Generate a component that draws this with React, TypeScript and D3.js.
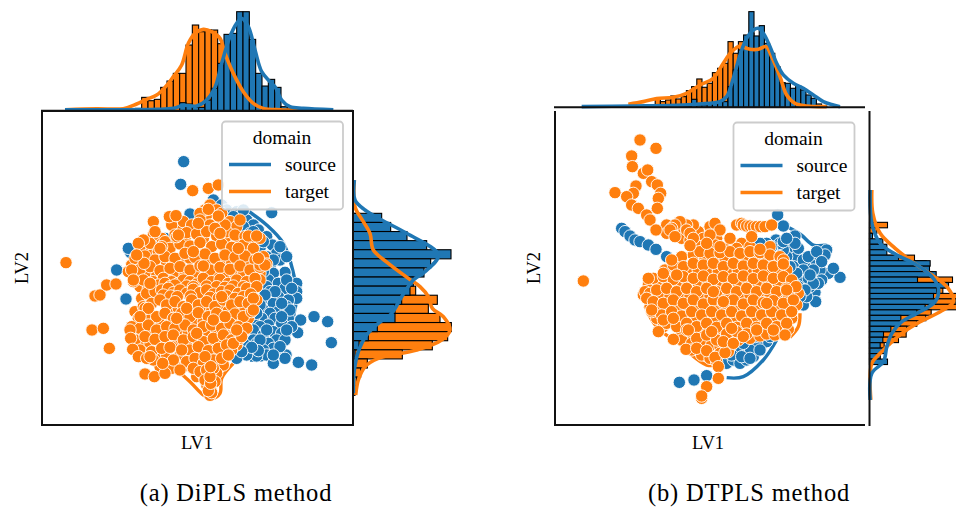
import React from "react";
import * as d3 from "d3";

const BLUE = "#1f77b4";
const ORANGE = "#ff7f0e";
type P = [number, number];

// ---------- DiPLS ----------
const diplsSourcePoints: P[] = [
[431,155],[422,223],[450,312],[695,308],[230,480],[258,567],[268,420],[272,428],[265,415],[360,390],[350,400],[375,385],
[520,270],[545,285],[560,300],[590,305],[620,330],[640,345],[610,350],[655,360],[680,380],[630,370],[697,405],[660,415],[710,430],[680,440],[720,450],[740,440],[690,470],[735,487],[700,490],[660,500],[685,510],[715,520],[770,520],[680,530],[735,535],[770,545],[690,545],[715,560],[770,565],[745,570],[665,570],[700,580],[740,590],[670,600],[715,605],[690,610],[745,625],[705,625],[665,625],[640,630],[725,640],[685,645],[660,650],[640,660],[700,665],[725,670],[670,675],[640,690],[710,690],[685,700],[650,700],[615,705],[735,690],[700,715],[670,720],[648,715],[625,725],[680,735],[650,738],[620,735],[590,745],[738,735],[735,745],[700,760],[775,757],[815,765],[782,630],[822,620],[863,635],[874,698],[773,668],[610,300],[580,320],
[640,365],[670,395],[720,410],[700,450],[670,485],[740,510],[755,535],[750,600],[725,620],[755,650],[740,660],[680,660],[660,690],[720,710],[700,735],[655,722],[635,712],[605,725],[725,580],[705,545],[675,555],[660,585],[650,610],
];
const diplsTargetFill: P[] = [
[500,315],[465,355],[425,355],[520,360],[570,355],[365,385],[320,420],[400,395],[435,385],[490,385],[555,385],[600,395],[635,400],
[300,455],[340,430],[380,458],[420,455],[450,445],[480,450],[510,455],[545,458],[575,455],[600,445],[630,460],[655,458],[275,465],
[285,500],[320,490],[350,498],[380,490],[405,495],[435,495],[465,495],[500,492],[530,490],[555,492],[585,490],[610,490],[635,495],[660,490],
[300,530],[325,535],[345,530],[362,552],[380,568],[405,535],[430,528],[448,535],[470,562],[490,528],[510,535],[530,525],[548,530],[575,550],[605,540],[635,520],[660,510],
[305,565],[330,560],[395,590],[415,595],[445,605],[465,598],[490,600],[515,602],[540,598],[565,603],[590,595],[615,598],[635,590],[650,570],
[285,605],[310,640],[335,630],[365,635],[390,640],[415,640],[440,635],[465,635],[490,635],[535,640],[560,640],[585,632],[610,640],[625,625],
[285,670],[305,665],[335,665],[365,670],[390,665],[420,668],[445,665],[475,665],[505,665],[530,665],[560,665],[585,668],[610,665],
[300,700],[330,700],[360,700],[385,695],[415,705],[445,700],[475,695],[505,705],[535,695],[565,690],[590,705],
[315,730],[350,735],[380,735],[420,735],[460,730],[490,730],[520,735],[550,728],[575,720],
[360,770],[395,775],[430,770],[450,760],[475,765],[505,765],[535,770],[550,765],
[470,800],[490,795],[515,795],[530,790],[500,825],[525,815],[510,856],
];
const diplsTargetPoints: P[] = [
[495,300],[510,285],[480,310],[530,300],[545,310],[395,345],[430,335],[455,345],[480,330],[510,345],[545,340],[570,335],[590,350],
[340,375],[375,395],[405,375],[440,368],[470,372],[500,365],[530,378],[560,365],[585,375],[615,380],
[300,410],[330,400],[355,425],[390,415],[420,402],[450,408],[480,398],[515,410],[545,402],[575,412],[610,405],[640,415],
[285,445],[315,438],[345,450],[375,440],[405,445],[435,430],[465,442],[495,432],[525,445],[555,435],[585,442],[615,438],[645,450],[670,440],
[265,485],[300,478],[330,470],[360,482],[390,475],[420,470],[450,480],[480,468],[510,480],[540,472],[570,478],[600,468],[630,480],[660,472],[680,462],
[280,515],[310,510],[340,515],[370,505],[395,515],[415,520],[430,510],[450,515],[470,522],[490,505],[515,515],[540,508],[565,520],[590,510],[620,515],[645,505],
[355,525],[375,520],[390,530],[405,525],[440,528],[460,530],[500,528],[530,530],[555,532],[580,528],[610,530],
[320,550],[345,545],[365,540],[385,535],[400,548],[420,540],[440,550],[460,538],[480,548],[500,540],[520,552],[545,545],[570,540],[595,550],[620,535],[650,530],
[370,555],[392,558],[412,560],[452,558],[510,562],[535,565],[560,558],[585,565],[610,560],[632,552],
[310,590],[335,580],[360,570],[380,585],[405,575],[430,590],[455,570],[475,585],[500,575],[525,590],[550,570],[575,585],[600,575],[625,580],[640,565],
[295,625],[320,612],[350,620],[375,610],[400,625],[425,610],[450,620],[475,608],[505,620],[530,610],[560,622],[585,612],[610,620],[635,605],
[275,650],[300,655],[325,645],[350,660],[380,650],[405,655],[435,645],[460,660],[490,650],[515,645],[545,655],[570,640],[595,650],
[285,690],[315,680],[345,688],[375,680],[400,675],[430,690],[460,680],[490,695],[520,685],[550,675],[575,690],[600,685],
[300,720],[335,725],[365,715],[395,710],[450,720],[475,710],[505,722],[535,715],[560,705],[580,700],
[340,750],[400,750],[440,755],[465,745],[490,760],[520,750],[545,745],[565,735],
[460,775],[480,785],[500,780],[520,775],[495,810],[510,830],[515,848],[505,842],
[78,458],[156,660],[190,655],[208,715],[165,558],[180,555],[200,525],[228,522],[458,242],[505,235],[535,225],[340,335],[388,320],[408,317],[345,365],[310,390],[295,400],[312,460],[275,480],[290,435],[280,510],[330,520],[315,595],[325,595],[300,620],[270,660],[272,685],[278,718],[295,740],[320,745],[330,740],[315,792],[343,800],[375,790],[368,760],[420,780],[390,712],[425,720],[495,740],[512,820],[510,800],[512,770],[620,655],[605,680],[590,660],[640,600],[660,465],[675,465],[655,445],[625,378],[660,385],[650,378],[595,415],[600,330],[555,345],[525,355],[540,370],[505,298],[535,318],[475,340],[410,380],[415,375],[365,410],[360,415],[490,468],[460,425],[440,595],[545,560],[555,620],[410,625],[520,630],[470,670],
];
const diplsSourceContour: P[] = [[620,300],[680,345],[730,400],[758,480],[770,560],[755,640],[735,700],[680,745],[630,750]];
const diplsTargetContour: P[] = [[400,770],[450,815],[490,855],[515,866],[540,850],[545,805],[580,760]];

const diplsTopBinStart = -20;
const diplsTopSource = [0,0,0,0,0,0,0,0,0,0,0,24,20,10,10,32,67,142,229,232,297,297,214,112,74,94,70,12,8,3];
const diplsTopTarget = [1,1,1,1,7,40,30,34,70,89,112,112,197,257,237,242,242,201,150,105,66,42,24,12,6,3,0,0,0,0];
const diplsTopSourceKde: P[] = [[75,3],[200,3],[350,4],[400,7],[430,16],[470,14],[500,32],[525,70],[545,142],[570,222],[590,262],[605,277],[625,252],[645,182],[665,117],[690,87],[705,72],[725,32],[750,12],[790,7],[880,3]];
const diplsTopTargetKde: P[] = [[75,3],[170,6],[250,6],[290,20],[320,34],[350,47],[375,70],[400,102],[425,137],[445,202],[465,232],[490,244],[515,237],[540,217],[555,172],[580,112],[610,57],[640,22],[670,7],[720,3],[780,2]];

const diplsRightSource = [86,113,162,221,294,233,213,181,171,146,126,126,73,46,18,6];
const diplsRightTarget = [20,30,40,50,60,80,110,150,188,253,226,261,295,284,238,148,43,23,11,6];
const diplsRightSourceKde: P[] = [[4,210],[6,270],[36,300],[86,330],[161,370],[256,435],[216,485],[181,510],[146,560],[116,610],[76,640],[41,675],[16,725],[4,780],[1,850]];
const diplsRightTargetKde: P[] = [[4,210],[6,290],[31,335],[51,370],[61,420],[106,460],[166,505],[201,530],[226,560],[238,595],[271,620],[291,660],[266,690],[191,720],[76,745],[36,770],[16,810],[8,855]];

// ---------- DTPLS ----------
const dtplsSourcePoints: P[] = [
[215,355],[225,365],[240,378],[255,390],[270,395],[295,405],[318,418],[350,440],[395,460],[683,315],[700,348],[735,378],[678,390],[388,817],[432,810],[470,797],
[530,760],[550,750],[570,760],[590,750],[610,740],[640,700],[650,695],[620,700],[600,720],[565,725],[580,700],[615,680],[660,680],[545,735],[575,740],[600,745],[630,720],
[830,420],[825,435],[800,445],[780,460],[770,475],[835,490],[870,502],[850,475],[795,547],[797,575],[760,585],[770,560],[740,440],[720,410],[710,440],[730,470],[760,510],[790,500],[810,480],[650,400],[700,420],[660,430],[690,460],[720,500],[745,415],[690,400],[630,400],[760,450],[745,530],[780,530],[815,510],[775,440],
[800,425],[815,455],[790,480],[760,480],[740,490],[775,505],[805,520],[720,470],[700,395],[665,410],[790,520],[765,540],[750,560],[735,400],[710,385],[780,495],
];
const dtplsTargetFill: P[] = [
[480,350],[500,385],[350,345],[385,350],[400,345],[350,370],[380,365],[395,385],[445,365],[430,345],[410,345],[460,385],[420,390],[450,410],[495,405],[540,410],[575,400],[560,415],[600,410],[660,410],
[395,440],[430,435],[465,445],[495,440],[525,445],[555,440],[585,445],[615,440],[645,445],[675,450],[710,480],
[345,480],[385,485],[415,480],[445,482],[475,478],[505,485],[535,480],[565,482],[595,480],[625,482],[655,485],[685,482],[712,520],
[295,525],[325,520],[355,522],[385,525],[415,520],[445,522],[475,520],[505,525],[535,520],[565,522],[595,518],[625,525],[655,520],[685,525],[725,555],[745,550],
[280,555],[330,560],[360,558],[390,562],[420,558],[450,560],[480,558],[510,562],[540,555],[570,560],[600,555],[630,562],[660,558],[690,562],[715,555],
[300,590],[325,598],[355,592],[385,600],[415,590],[445,598],[475,592],[505,598],[535,590],[565,598],[595,590],[625,598],[655,590],[685,598],[715,590],[740,585],
[320,625],[350,625],[380,632],[410,625],[440,632],[470,622],[500,630],[530,625],[560,632],[590,622],[620,632],[650,622],[680,630],[710,620],[725,625],
[340,650],[395,665],[425,670],[455,665],[485,668],[515,660],[545,675],[575,660],[605,665],[635,668],[655,660],[690,665],[715,658],
[395,690],[425,700],[455,700],[485,705],[510,710],[540,712],[565,690],[600,685],[630,678],[650,672],[675,675],
[425,720],[455,735],[480,745],[510,730],[535,725],[500,755],
];
const dtplsTargetPoints: P[] = [
[450,425],[480,430],[510,428],[540,425],[570,430],[600,425],[630,428],[660,435],[690,440],[700,450],
[370,465],[400,470],[430,460],[460,465],[490,460],[520,470],[550,460],[580,468],[610,460],[640,465],[670,470],[700,462],
[310,505],[340,500],[370,508],[400,500],[430,505],[460,498],[490,508],[520,500],[550,506],[580,498],[610,506],[640,498],[670,505],[700,500],[725,510],
[285,545],[300,550],[320,540],[350,535],[380,545],[410,535],[440,545],[470,535],[500,545],[530,535],[560,545],[590,535],[620,545],[650,535],[680,545],[710,535],[738,530],
[290,565],[310,575],[340,580],[370,570],[400,580],[430,570],[460,582],[490,570],[520,580],[550,570],[580,582],[610,570],[640,578],[670,572],[700,580],[730,570],
[305,605],[335,615],[365,605],[395,618],[425,605],[455,615],[485,605],[515,615],[545,605],[575,618],[605,605],[635,615],[665,605],[695,615],[725,605],
[350,640],[380,650],[410,640],[440,650],[470,640],[500,652],[530,640],[560,652],[590,640],[620,652],[650,640],[680,650],[710,640],
[325,665],[370,688],[410,660],[440,685],[470,675],[500,690],[530,672],[560,665],[590,672],[620,660],[670,660],[705,675],
[408,718],[440,715],[470,722],[495,742],[525,728],[520,695],[550,700],[580,680],
[100,513],[270,90],[318,115],[245,138],[247,170],[280,190],[293,180],[305,215],[322,225],[332,250],[325,265],[322,295],[258,228],[250,250],[195,248],[230,260],[245,285],[265,295],[290,315],[300,330],[318,360],
[560,345],[575,340],[580,345],[590,348],[600,348],[610,350],[620,350],[632,350],[645,350],[665,345],[495,340],[510,360],[480,375],[540,385],[605,380],[630,418],
[390,335],[375,345],[365,355],[360,360],[410,360],[420,370],[375,380],[430,385],[365,450],[420,407],[470,400],[510,410],[295,505],[340,490],[380,495],[490,545],[520,575],[710,540],[650,580],[545,655],[485,665],[415,660],[340,630],[370,625],[305,600],
[505,770],[505,805],[470,830],[455,865],[455,858],
];
const dtplsSourceContour: P[] = [[690,340],[750,372],[790,405],[830,405]];
const dtplsSourceContourLow: P[] = [[530,803],[580,800],[640,750],[680,690]];
const dtplsTargetContour: P[] = [[425,735],[470,765],[505,765]];
const dtplsTargetContourRight: P[] = [[750,610],[745,650],[720,682]];
const dtplsTargetContourLeft: P[] = [[285,590],[320,650],[420,722]];

const dtplsTopBinStart = -19;
const dtplsTopSource = [4,3,3,3,3,3,3,24,7,7,10,12,17,17,62,112,172,217,287,214,245,192,162,119,74,72,57,64,52,37,27,10,4];
const dtplsTopTarget = [27,17,22,34,25,32,50,62,85,60,72,104,117,132,197,162,197,215,222,200,212,187,152,122,62,32,17,7,4];
const dtplsTopSourceKde: P[] = [[95,2],[250,4],[400,7],[450,10],[510,17],[530,32],[550,87],[570,157],[590,207],[610,232],[625,237],[640,222],[660,182],[680,132],[700,97],[730,72],[760,57],[790,37],[820,17],[850,7],[870,2]];
const dtplsTopTargetKde: P[] = [[235,9],[280,17],[320,26],[370,30],[410,42],[450,67],[490,87],[520,132],[545,167],[570,184],[590,177],[600,174],[625,174],[648,182],[665,152],[690,92],[710,37],[735,12],[770,4],[830,2]];

const dtplsRightSource = [9,40,52,52,87,182,180,200,144,237,202,192,197,167,142,94,92,64,42,40,32,47,32,54];
const dtplsRightTarget = [54,22,4,4,6,8,135,170,175,190,249,237,220,272,257,272,185,169,142,112,110,87,44,27,32,15];
const dtplsRightSourceKde: P[] = [[2,240],[7,340],[32,400],[82,435],[142,465],[187,500],[207,535],[197,575],[142,610],[97,635],[67,670],[52,710],[42,755],[7,790],[2,870]];
const dtplsRightTargetKde: P[] = [[7,240],[10,310],[32,370],[77,415],[142,465],[187,495],[232,530],[252,575],[212,605],[152,635],[97,670],[57,705],[32,730],[7,760],[4,870]];

const legendLabels = ["source", "target"];
const axisLabels = { x: "LV1", y: "LV2" };

const curve = d3.curveCatmullRom.alpha(0.5);

function Hist({ a }: { a: any }) {
  const x = d3.scaleLinear().domain([0, 960]).range([a.ox, a.ox + 320]);
  const y = d3.scaleLinear().domain([0, 960]).range([110, 430]);
  const h = d3.scaleLinear().domain([0, 960]).range([0, 320]);
  const topLine = d3.line<P>().x(d => x(d[0])).y(d => a.topBase - h(d[1])).curve(curve);
  const rightLine = d3.line<P>().x(d => a.rightBase + h(d[0])).y(d => y(d[1])).curve(curve);
  const bar = { stroke: "#000", strokeWidth: 1.1 };
  const tb = (vals: number[], col: string) => vals.map((v, i) => {
    const e = a.binRef + (a.topStart + i) * a.binW;
    return v > 0 ? <rect key={i} x={x(e)} width={h(a.binW)} y={a.topBase - h(v)} height={h(v)} fill={col} {...bar} /> : null;
  });
  const rb = (vals: number[], start: number, col: string) => vals.map((v, i) => {
    const e = start + i * a.rowW;
    return <rect key={i} y={y(e)} height={h(a.rowW)} x={a.rightBase} width={h(v)} fill={col} {...bar} />;
  });
  const kde = { fill: "none", strokeWidth: 3.6, strokeLinejoin: "round" as const };
  return (
    <g>
      {tb(a.topTarget, ORANGE)}
      {tb(a.topSource, BLUE)}
      <path d={topLine(a.topTargetKde)!} stroke={ORANGE} {...kde} />
      <path d={topLine(a.topSourceKde)!} stroke={BLUE} {...kde} />
      {rb(a.rightTarget, a.rightTargetStart, ORANGE)}
      {rb(a.rightSource, a.rightSourceStart, BLUE)}
      <path d={rightLine(a.rightTargetKde)!} stroke={ORANGE} {...kde} />
      <path d={rightLine(a.rightSourceKde)!} stroke={BLUE} {...kde} />
    </g>
  );
}

function Scatter({ a }: { a: any }) {
  const x = d3.scaleLinear().domain([0, 960]).range([a.ox, a.ox + 320]);
  const y = d3.scaleLinear().domain([0, 960]).range([110, 430]);
  const line = d3.line<P>().x(d => x(d[0])).y(d => y(d[1])).curve(curve);
  const dots = (pts: P[], col: string) => pts.map((p, i) => (
    <circle key={i} cx={x(p[0])} cy={y(p[1])} r={6.2} fill={col} stroke="#fff" strokeWidth={0.9} />
  ));
  return (
    <g>
      {a.sourceContours.map((c: P[], i: number) => <path key={i} d={line(c)!} fill="none" stroke={BLUE} strokeWidth={3.4} />)}
      {a.targetContours.map((c: P[], i: number) => <path key={i} d={line(c)!} fill="none" stroke={ORANGE} strokeWidth={3.4} />)}
      {dots(a.source, BLUE)}
      {dots(a.fill, ORANGE)}
      {dots(a.target, ORANGE)}
    </g>
  );
}

function Legend({ lx, ly }: { lx: number; ly: number }) {
  const cols = [BLUE, ORANGE];
  return (
    <g fontFamily="'Liberation Serif', serif" fill="#000">
      <rect x={lx} y={ly} width={121} height={88} rx={3.5} fill="#fff" fillOpacity={0.85} stroke="#ccc" strokeWidth={1.8} />
      <text x={lx + 60} y={ly + 22} textAnchor="middle" fontSize={19.5}>domain</text>
      {legendLabels.map((t, i) => (
        <g key={t}>
          <line x1={lx + 7} x2={lx + 49} y1={ly + 43 + i * 27} y2={ly + 43 + i * 27} stroke={cols[i]} strokeWidth={3.6} />
          <text x={lx + 63} y={ly + 49 + i * 27} fontSize={19.5}>{t}</text>
        </g>
      ))}
    </g>
  );
}

export default function App() {
  const A = {
    ox: 40, topBase: 110.7, rightBase: 353, binRef: 590, binW: 19, topStart: diplsTopBinStart,
    topSource: diplsTopSource, topTarget: diplsTopTarget, topSourceKde: diplsTopSourceKde, topTargetKde: diplsTopTargetKde,
    rowW: 27.3, rightSource: diplsRightSource, rightSourceStart: 310, rightTarget: diplsRightTarget, rightTargetStart: 310,
    rightSourceKde: diplsRightSourceKde, rightTargetKde: diplsRightTargetKde,
    source: diplsSourcePoints, fill: diplsTargetFill, target: diplsTargetPoints, sourceContours: [diplsSourceContour], targetContours: [diplsTargetContour],
  };
  const B = {
    ox: 550, topBase: 107.3, rightBase: 869.5, binRef: 612, binW: 15.6, topStart: dtplsTopBinStart,
    topSource: dtplsTopSource, topTarget: dtplsTopTarget, topSourceKde: dtplsTopSourceKde, topTargetKde: dtplsTopTargetKde,
    rowW: 16.4, rightSource: dtplsRightSource, rightSourceStart: 370, rightTarget: dtplsRightTarget, rightTargetStart: 337,
    rightSourceKde: dtplsRightSourceKde, rightTargetKde: dtplsRightTargetKde,
    source: dtplsSourcePoints, fill: dtplsTargetFill, target: dtplsTargetPoints,
    sourceContours: [dtplsSourceContour, dtplsSourceContourLow], targetContours: [dtplsTargetContour, dtplsTargetContourRight, dtplsTargetContourLeft],
  };
  const sp = { stroke: "#111", strokeWidth: 2, fill: "none" };
  const text = { fontFamily: "'Liberation Serif', serif", fill: "#000" };
  return (
    <svg width={956} height={507} style={{ position: "absolute", left: 0, top: 0, background: "#fff" }}>
      <Hist a={A} />
      <line x1={41} x2={353} y1={110.7} y2={110.7} {...sp} />
      <rect x={42} y={111} width={311} height={314} {...sp} fill="#fff" />
      <line x1={353} x2={353} y1={110} y2={426} {...sp} />
      <Scatter a={A} />
      <Legend lx={222} ly={121.5} />
      <text x={197} y={449} textAnchor="middle" fontSize={18.5} {...text}>{axisLabels.x}</text>
      <text transform="translate(28,268) rotate(-90)" textAnchor="middle" fontSize={18.5} {...text}>{axisLabels.y}</text>
      <text x={236} y={501} textAnchor="middle" fontSize={24.5} letterSpacing={0.8} {...text}>(a) DiPLS method</text>

      <Hist a={B} />
      <line x1={554} x2={865} y1={107.3} y2={107.3} {...sp} />
      <line x1={555} x2={555} y1={111} y2={426} {...sp} />
      <line x1={554} x2={865} y1={425} y2={425} {...sp} />
      <line x1={869.5} x2={869.5} y1={111} y2={426} {...sp} />
      <Scatter a={B} />
      <Legend lx={733.5} ly={122.5} />
      <text x={708} y={449} textAnchor="middle" fontSize={18.5} {...text}>{axisLabels.x}</text>
      <text transform="translate(540,268) rotate(-90)" textAnchor="middle" fontSize={18.5} {...text}>{axisLabels.y}</text>
      <text x={749} y={501} textAnchor="middle" fontSize={24.5} letterSpacing={0.8} {...text}>(b) DTPLS method</text>
    </svg>
  );
}
